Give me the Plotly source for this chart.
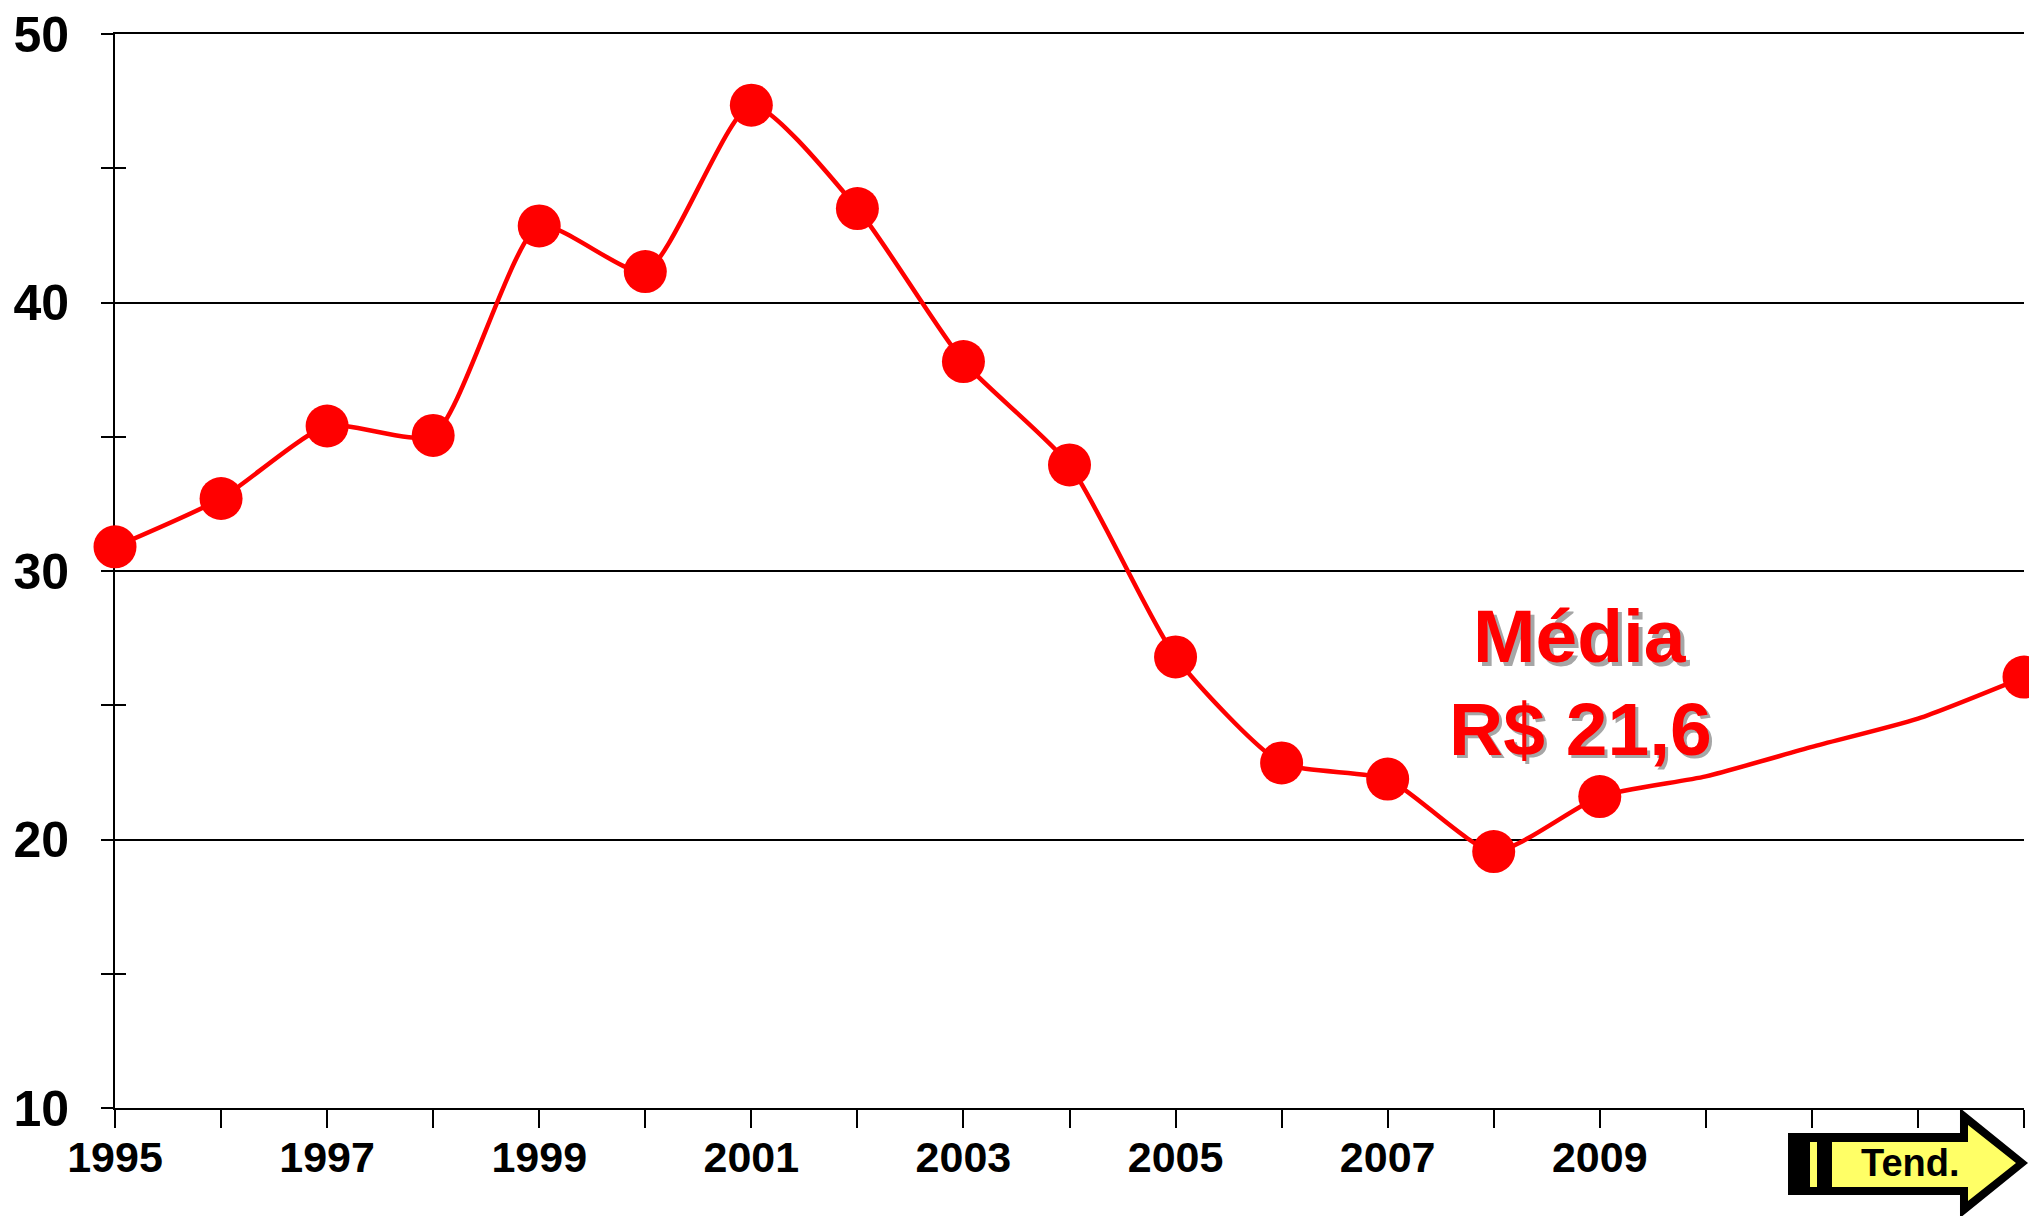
import plotly.graph_objects as go

# ---------------- data ----------------
years = list(range(1995, 2014))
price = [30.9, 32.7, 35.4, 35.05, 42.85, 41.15, 47.35, 43.5, 37.8, 33.95,
         26.8, 22.85, 22.25, 19.55, 21.6, 22.35, 23.45, 24.5, 26.05]
marker_years = [1995, 1996, 1997, 1998, 1999, 2000, 2001, 2002, 2003, 2004,
                2005, 2006, 2007, 2008, 2009, 2013]
x_tick_labels = ["1995", "", "1997", "", "1999", "", "2001", "", "2003", "",
                 "2005", "", "2007", "", "2009", "", "", "", ""]
y_tick_vals = [10, 20, 30, 40, 50]
y_tick_labels = ["10", "20", "30", "40", "50"]
note_lines = ["Média", "R$ 21,6"]
arrow_label = "Tend."

# ---------------- geometry helpers ----------------
W, H = 2029, 1216
L, R, T, B = 115, 5, 34, 108
PW, PH = W - L - R, H - T - B


def px(x):
    return (x - L) / PW


def py(y):
    return (H - B - y) / PH


RED = "#FF0000"
FONT = "Liberation Sans, Arial, sans-serif"

mx = [x for x in years if x in marker_years]
my = [v for x, v in zip(years, price) if x in marker_years]

fig = go.Figure()
fig.add_trace(go.Scatter(x=years, y=price, mode="lines",
                         line=dict(color=RED, width=4.5, shape="spline", smoothing=0.6),
                         cliponaxis=False, hoverinfo="skip", showlegend=False))
fig.add_trace(go.Scatter(x=mx, y=my, mode="markers",
                         marker=dict(size=43, color=RED),
                         cliponaxis=False, showlegend=False))
# helper trace so the overlaid axis (inner tick halves) is drawn
fig.add_trace(go.Scatter(x=[years[0]], y=[y_tick_vals[0]], mode="markers",
                         marker=dict(size=1, opacity=0), yaxis="y2",
                         hoverinfo="skip", showlegend=False))

fig.update_layout(
    width=W, height=H,
    margin=dict(l=L, r=R, t=T, b=B),
    paper_bgcolor="white", plot_bgcolor="white",
    showlegend=False,
    xaxis=dict(range=[years[0], years[-1]], tickmode="array",
               tickvals=years, ticktext=x_tick_labels,
               ticks="outside", ticklen=18, tickwidth=2, tickcolor="black",
               showline=True, linewidth=2, linecolor="black", mirror=True,
               showgrid=False, zeroline=False, layer="below traces",
               ticklabelstandoff=-8,
               tickfont=dict(family=FONT, size=43, color="black", weight="bold")),
    yaxis=dict(range=[10, 50], tickmode="array",
               tickvals=y_tick_vals, ticktext=y_tick_labels,
               ticks="outside", ticklen=12, tickwidth=2, tickcolor="black",
               minor=dict(dtick=5, tick0=10, ticks="outside", ticklen=12,
                          tickwidth=2, tickcolor="black", showgrid=False),
               showline=True, linewidth=2, linecolor="black",
               showgrid=True, gridcolor="black", gridwidth=2,
               zeroline=False, layer="below traces",
               ticklabelstandoff=22,
               tickfont=dict(family=FONT, size=50, color="black", weight="bold")),
    yaxis2=dict(range=[10, 50], overlaying="y", side="left",
                tickmode="linear", tick0=10, dtick=5,
                ticks="inside", ticklen=11, tickwidth=2, tickcolor="black",
                showticklabels=False, showgrid=False, showline=False,
                zeroline=False, layer="below traces"),
)

# "Média R$ 21,6" with a grey drop shadow
note_y = [636, 728.5]
for text, yc in zip(note_lines, note_y):
    for dx, dy, col in [(3.5, 3.5, "#A6A6A6"), (0, 0, RED)]:
        fig.add_annotation(x=px(1580 + dx), y=py(yc + dy), xref="paper", yref="paper",
                           text=text, showarrow=False, xanchor="center", yanchor="middle",
                           font=dict(family=FONT, size=75, color=col, weight="bold"))


def path(points):
    return "M " + " L ".join(f"{px(a):.5f},{py(b):.5f}" for a, b in points) + " Z"


outer = [(1788, 1133), (1960, 1133), (1960, 1108), (2028, 1163),
         (1960, 1218), (1960, 1195), (1788, 1195)]
inner = [(1832, 1142), (1968, 1142), (1968, 1125), (2016, 1163),
         (1968, 1201), (1968, 1187), (1832, 1187)]
bar = [(1810, 1142), (1817, 1142), (1817, 1187), (1810, 1187)]
for pts, col in [(outer, "black"), (inner, "#FFFF66"), (bar, "#FFFF66")]:
    fig.add_shape(type="path", path=path(pts), xref="paper", yref="paper",
                  fillcolor=col, line=dict(width=0), layer="above")

fig.add_annotation(x=px(1910), y=py(1162.5), xref="paper", yref="paper",
                   text=arrow_label, showarrow=False, xanchor="center", yanchor="middle",
                   font=dict(family=FONT, size=38, color="black", weight="bold"))

fig.write_html("out.html", config={"displayModeBar": False},
               post_script="document.body.style.margin='0';")
